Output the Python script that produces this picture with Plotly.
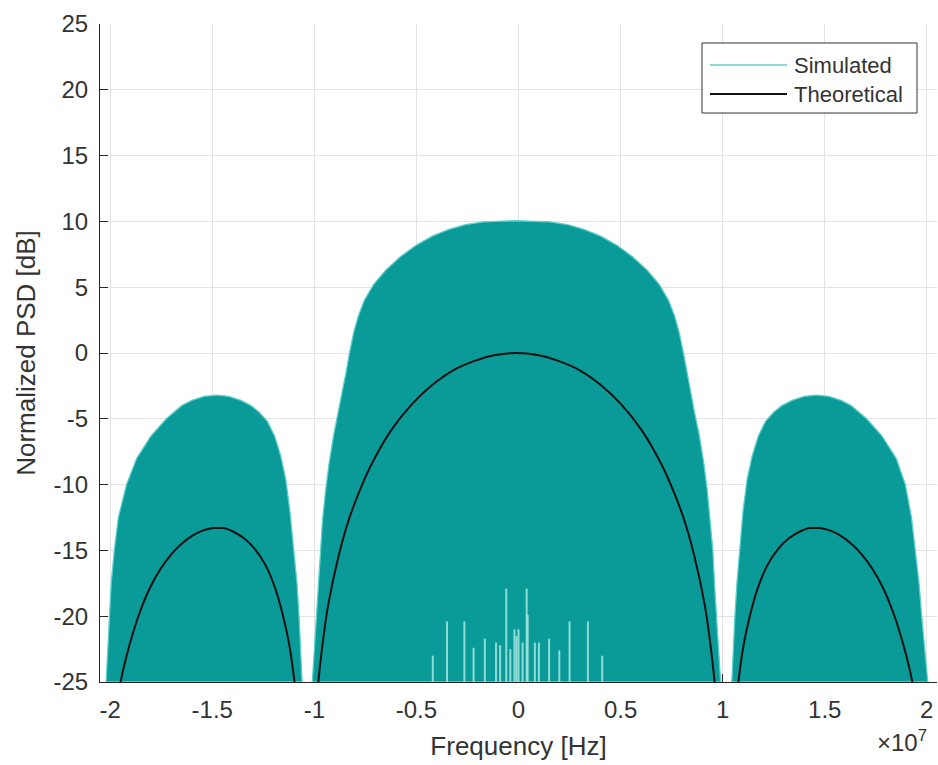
import plotly.graph_objects as go

# ---------------- data (frequency in units of 1e7 Hz, PSD in dB) ----------------
# Theoretical PSD
theo_left_f = [-1.958, -1.937, -1.906, -1.855, -1.804, -1.753, -1.701, -1.65, -1.599, -1.548,
               -1.496, -1.476, -1.445, -1.394, -1.343, -1.291, -1.24, -1.189, -1.138, -1.117,
               -1.097, -1.086]
theo_left_db = [-25.7, -24.1, -22.2, -19.7, -17.8, -16.4, -15.3, -14.5, -13.9, -13.5,
                -13.3, -13.3, -13.3, -13.6, -14.1, -14.9, -16.1, -18.0, -21.0, -22.7,
                -25.0, -26.5]
theo_main_f = [-0.984, -0.974, -0.953, -0.933, -0.881, -0.83, -0.779, -0.728, -0.625, -0.523,
               -0.42, -0.318, -0.215, -0.113, -0.01, 0.093, 0.195, 0.298, 0.40, 0.503,
               0.605, 0.708, 0.759, 0.81, 0.861, 0.913, 0.933, 0.954, 0.964]
theo_main_db = [-25.6, -24.0, -21.3, -19.2, -15.4, -12.6, -10.5, -8.7, -5.9, -3.9,
                -2.4, -1.3, -0.6, -0.15, 0.0, -0.15, -0.6, -1.3, -2.4, -3.9,
                -5.9, -8.7, -10.5, -12.6, -15.4, -19.2, -21.3, -24.0, -25.6]
theo_right_f = [1.066, 1.077, 1.097, 1.118, 1.169, 1.22, 1.271, 1.323, 1.374, 1.425,
                1.456, 1.476, 1.528, 1.579, 1.63, 1.681, 1.733, 1.784, 1.835, 1.886,
                1.917, 1.938]
theo_right_db = [-26.5, -25.0, -22.7, -21.0, -18.0, -16.1, -14.9, -14.1, -13.6, -13.3,
                 -13.3, -13.3, -13.5, -13.9, -14.5, -15.3, -16.4, -17.8, -19.7, -22.2,
                 -24.1, -25.7]

# Simulated PSD: upper envelope of the dense (filled-looking) trace, per lobe
sim_left_f = [-2.02, -2.012, -2.005, -1.995, -1.98, -1.96, -1.92, -1.87, -1.80, -1.725,
              -1.65, -1.60, -1.54, -1.48, -1.42, -1.36, -1.31, -1.27, -1.23, -1.195,
              -1.165, -1.14, -1.12, -1.10, -1.085, -1.075, -1.067, -1.06]
sim_left_db = [-25, -22.5, -20, -17.5, -15, -12.5, -10, -8, -6.3, -5,
               -4, -3.6, -3.3, -3.2, -3.3, -3.6, -4, -4.5, -5.2, -6.3,
               -7.8, -9.6, -12, -15, -17.5, -20, -22.5, -25]
sim_main_f = [-1.01, -1.0, -0.99, -0.98, -0.972, -0.96, -0.945, -0.928, -0.905, -0.882,
              -0.862, -0.845, -0.828, -0.808, -0.785, -0.755, -0.71, -0.65, -0.58, -0.50,
              -0.42, -0.34, -0.26, -0.17, -0.01, 0.15, 0.24, 0.32, 0.40, 0.48,
              0.56, 0.63, 0.69, 0.735, 0.765, 0.788, 0.808, 0.825, 0.842, 0.862,
              0.885, 0.908, 0.925, 0.94, 0.952, 0.96, 0.97, 0.98, 0.99]
sim_main_db = [-25, -22.5, -20, -17.5, -15, -12.7, -10.5, -8.4, -6.2, -4.5,
               -3, -1.5, 0, 1.5, 2.8, 4.0, 5.2, 6.3, 7.3, 8.2,
               8.9, 9.4, 9.75, 9.97, 10.05, 9.97, 9.75, 9.4, 8.9, 8.2,
               7.3, 6.3, 5.2, 4.0, 2.8, 1.5, 0, -1.5, -3, -4.5,
               -6.2, -8.4, -10.5, -12.7, -15, -17.5, -20, -22.5, -25]
sim_right_f = [1.045, 1.052, 1.06, 1.07, 1.085, 1.10, 1.12, 1.145, 1.175, 1.21,
               1.25, 1.29, 1.34, 1.40, 1.46, 1.52, 1.58, 1.63, 1.705, 1.78,
               1.85, 1.895, 1.925, 1.945, 1.962, 1.975, 1.99, 2.005]
sim_right_db = [-25, -22.5, -20, -17.5, -15, -12, -9.6, -7.8, -6.3, -5.2,
                -4.5, -4, -3.6, -3.3, -3.2, -3.3, -3.6, -4, -5, -6.3,
                -8, -10, -12.5, -15, -17.5, -20, -22.5, -25]

# Light gaps near the floor of the simulated trace (position, top of the gap in dB)
gap_f = [-0.42, -0.35, -0.265, -0.22, -0.165, -0.11, -0.09, -0.06, -0.04, -0.02,
         -0.01, 0.0, 0.02, 0.04, 0.045, 0.08, 0.10, 0.15, 0.20, 0.25, 0.34, 0.41]
gap_top_db = [-23.0, -20.4, -20.4, -22.4, -21.7, -22.0, -22.2, -17.9, -22.5, -21.0,
              -21.5, -21.0, -22.0, -17.9, -19.9, -22.0, -22.0, -21.7, -22.6, -20.4, -20.4, -23.0]

x_ticks = [-2, -1.5, -1, -0.5, 0, 0.5, 1, 1.5, 2]
x_tick_text = ["-2", "-1.5", "-1", "-0.5", "0", "0.5", "1", "1.5", "2"]
y_ticks = [-25, -20, -15, -10, -5, 0, 5, 10, 15, 20, 25]
y_tick_text = ["-25", "-20", "-15", "-10", "-5", "0", "5", "10", "15", "20", "25"]
y_floor = -25

legend_names = ["Simulated", "Theoretical"]
legend_colors = ["#66cccc", "#111111"]

TEAL = "#0a9a97"
EDGE = "#5ccfcb"
TEXT = "#333333"
FONT = "Liberation Sans, Arial, Helvetica, sans-serif"

fig = go.Figure()

# simulated lobes as filled envelopes
for f, db in [(sim_left_f, sim_left_db), (sim_main_f, sim_main_db), (sim_right_f, sim_right_db)]:
    fig.add_trace(go.Scatter(
        x=f + [f[0]], y=db + [db[0]], mode="lines", fill="toself", name=legend_names[0],
        fillcolor=TEAL, line=dict(color=EDGE, width=1.3),
        showlegend=False, hoverinfo="skip"))

# light gaps near the floor
gx, gy = [], []
for f, top in zip(gap_f, gap_top_db):
    gx += [f, f, None]
    gy += [y_floor, top, None]
fig.add_trace(go.Scatter(x=gx, y=gy, mode="lines", name=legend_names[0],
                         line=dict(color="rgba(165,232,226,0.85)", width=2),
                         showlegend=False, hoverinfo="skip"))

# theoretical
theo_f = theo_left_f + [None] + theo_main_f + [None] + theo_right_f
theo_db = theo_left_db + [None] + theo_main_db + [None] + theo_right_db
fig.add_trace(go.Scatter(x=theo_f, y=theo_db, mode="lines", name=legend_names[1],
                         connectgaps=False, showlegend=False,
                         line=dict(color=legend_colors[1], width=2, shape="spline", smoothing=0.8)))

axis_common = dict(showgrid=True, gridcolor="#e3e3e3", gridwidth=1,
                   showline=True, linecolor="#262626", linewidth=1.2,
                   ticks="inside", ticklen=8, tickcolor="#262626",
                   zeroline=False, layer="below traces",
                   tickfont=dict(size=24, color=TEXT, family=FONT))

fig.update_xaxes(range=[-2.05, 2.05], tickvals=x_ticks, ticktext=x_tick_text,
                 ticklabelstandoff=6,
                 title=dict(text="Frequency [Hz]", font=dict(size=26, color=TEXT, family=FONT),
                            standoff=14),
                 **axis_common)
fig.update_yaxes(range=[-25, 25], tickvals=y_ticks, ticktext=y_tick_text,
                 ticklabelstandoff=6,
                 title=dict(text="Normalized PSD [dB]", font=dict(size=26, color=TEXT, family=FONT),
                            standoff=10),
                 **axis_common)

# legend box drawn in paper coordinates (plot area: x 100..937 px, y 24..682 px)
W, H, L, B = 837.0, 658.0, 100.0, 682.0
def px(xp):
    return (xp - L) / W
def py(yp):
    return (B - yp) / H

shapes = [dict(type="rect", xref="paper", yref="paper",
               x0=px(702), x1=px(917), y0=py(113), y1=py(43),
               line=dict(color="#333333", width=1), fillcolor="white", layer="above")]
annotations = []
for i, (name, col) in enumerate(zip(legend_names, legend_colors)):
    yrow = 65 + 29 * i
    shapes.append(dict(type="line", xref="paper", yref="paper",
                       x0=px(710), x1=px(787), y0=py(yrow), y1=py(yrow),
                       line=dict(color=col, width=1.6 if i == 0 else 2), layer="above"))
    annotations.append(dict(text=name, xref="paper", yref="paper",
                            x=px(792), y=py(yrow), xanchor="left", yanchor="middle",
                            showarrow=False, font=dict(size=22, color=TEXT, family=FONT)))

annotations.append(dict(text="×10<sup>7</sup>", xref="paper", yref="paper",
                        x=0.99, y=-0.09, xanchor="right", yanchor="middle",
                        showarrow=False, font=dict(size=24, color=TEXT, family=FONT)))

fig.update_layout(
    width=938, height=765,
    margin=dict(l=100, r=1, t=24, b=83),
    plot_bgcolor="white", paper_bgcolor="white",
    font=dict(family=FONT, color=TEXT),
    showlegend=False,
    shapes=shapes,
    annotations=annotations,
)

fig.write_html("out.html")
